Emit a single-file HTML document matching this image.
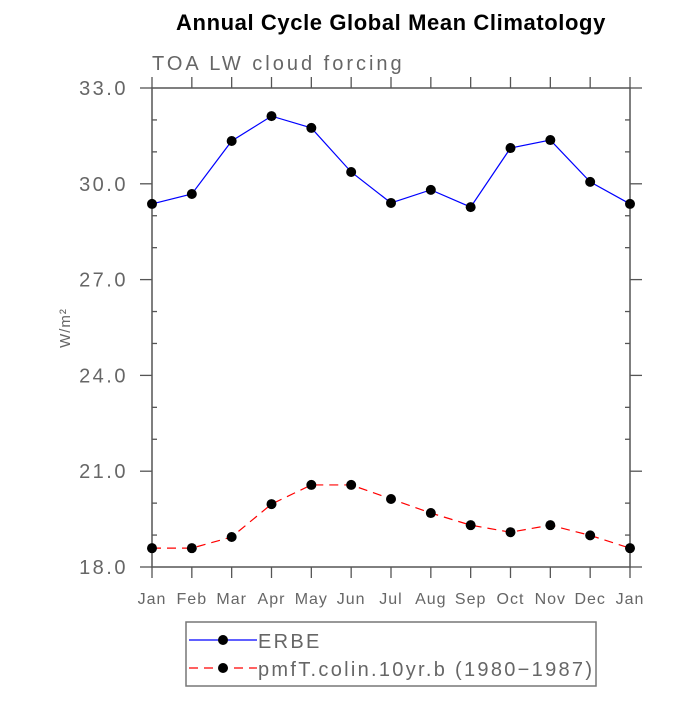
<!DOCTYPE html>
<html><head><meta charset="utf-8"><style>body{margin:0;background:#fff}svg text{font-family:"Liberation Sans",sans-serif}</style></head>
<body>
<svg width="700" height="700" viewBox="0 0 700 700">
<text x="391" y="30" text-anchor="middle" font-size="22" font-weight="bold" letter-spacing="0.6" fill="#000">Annual Cycle Global Mean Climatology</text>
<text x="152" y="70" font-size="20" fill="#666" letter-spacing="3">TOA LW cloud forcing</text>
<text x="0" y="0" font-size="15" fill="#666" letter-spacing="1" transform="translate(70,328) rotate(-90)" text-anchor="middle">W/m²</text>
<g id="axes"></g>
<g id="series"></g>
<rect x="186" y="622" width="410" height="64" fill="none" stroke="#777" stroke-width="1.5"/>
<g>
<line x1="189" y1="640" x2="257" y2="640" stroke="#00f" stroke-width="1.2"/><circle cx="223" cy="640" r="5" fill="#000"/>
<text x="258" y="648" font-size="20" letter-spacing="2.3" fill="#666">ERBE</text></g>
<g>
<line x1="189" y1="668" x2="257" y2="668" stroke="#f00" stroke-width="1.2" stroke-dasharray="9,6"/><circle cx="223" cy="668" r="5" fill="#000"/>
<text x="258" y="676" font-size="20" letter-spacing="2.3" fill="#666">pmfT.colin.10yr.b (1980−1987)</text></g>
</svg>
<script>
const months=["Jan","Feb","Mar","Apr","May","Jun","Jul","Aug","Sep","Oct","Nov","Dec","Jan"];
const erbe=[29.37,29.68,31.34,32.12,31.75,30.37,29.40,29.81,29.27,31.12,31.37,30.06,29.37];
const pmf=[18.59,18.59,18.94,19.97,20.57,20.57,20.13,19.69,19.31,19.09,19.31,18.99,18.59];
const yTicks=["18.0","21.0","24.0","27.0","30.0","33.0"];
const X0=152,X1=630,Y0=567,Y1=88,YMIN=18,YMAX=33;
const xs=i=>X0+(X1-X0)*i/(months.length-1);
const ys=v=>Y0-(v-YMIN)/(YMAX-YMIN)*(Y0-Y1);
const NS="http://www.w3.org/2000/svg";
function mk(t,a,p){const e=document.createElementNS(NS,t);for(const k in a)e.setAttribute(k,a[k]);p.appendChild(e);return e;}
const ax=document.getElementById('axes'),se=document.getElementById('series');
const C="#555";
const fr=mk('rect',{x:X0,y:Y1,width:X1-X0,height:Y0-Y1,fill:'none',stroke:C,'stroke-width':1.5},ax);


months.forEach((m,i)=>{const x=xs(i);
mk('line',{x1:x,y1:Y0,x2:x,y2:Y0+11,stroke:C,'stroke-width':1.3},ax);
mk('line',{x1:x,y1:Y1,x2:x,y2:Y1-11,stroke:C,'stroke-width':1.3},ax);
const t=mk('text',{x:x,y:Y0+37,'text-anchor':'middle','font-size':16,'letter-spacing':1,fill:'#666'},ax);t.textContent=m;

});
for(let v=YMIN;v<=YMAX;v+=1){const y=ys(v);
if((v-YMIN)%3===0){mk('line',{x1:X0-12,y1:y,x2:X0,y2:y,stroke:C,'stroke-width':1.3},ax);mk('line',{x1:X1,y1:y,x2:X1+12,y2:y,stroke:C,'stroke-width':1.3},ax);}
else{mk('line',{x1:X0,y1:y,x2:X0+5,y2:y,stroke:C,'stroke-width':1.3},ax);mk('line',{x1:X1-5,y1:y,x2:X1,y2:y,stroke:C,'stroke-width':1.3},ax);}}
yTicks.forEach(s=>{const t=mk('text',{x:X0-24,y:ys(parseFloat(s))+7,'text-anchor':'end','font-size':20,'letter-spacing':2.5,fill:'#666'},ax);t.textContent=s;

});
function draw(d,col,dash,name){const p=mk('polyline',{points:d.map((v,i)=>xs(i)+','+ys(v)).join(' '),fill:'none',stroke:col,'stroke-width':1.2,'stroke-dasharray':dash},se);


d.forEach((v,i)=>{const c=mk('circle',{cx:xs(i),cy:ys(v),r:5,fill:'#000'},se);

});}
draw(erbe,'#00f','none','erbe');
draw(pmf,'#f00','9,6','pmf');
</script>
</body></html>
